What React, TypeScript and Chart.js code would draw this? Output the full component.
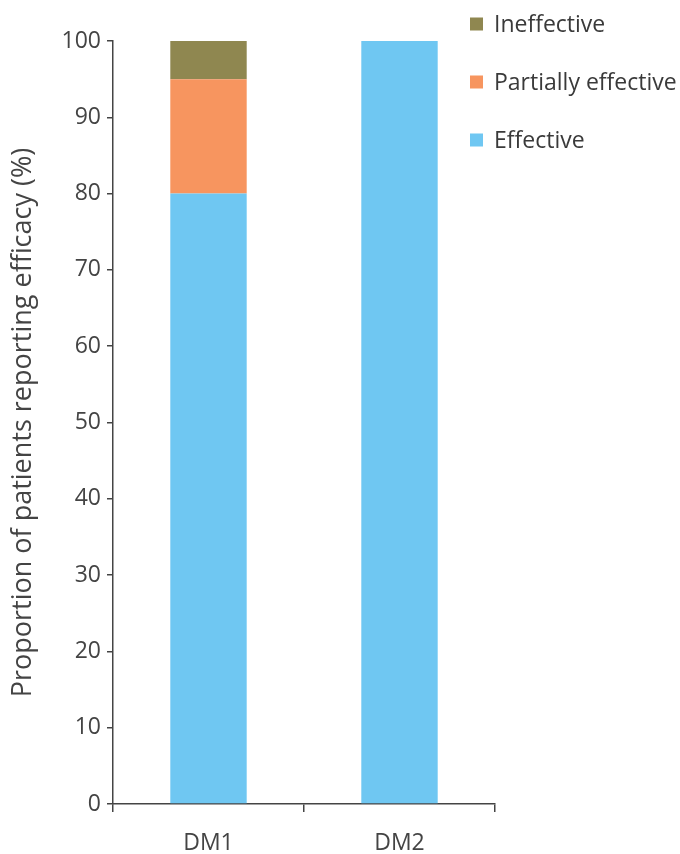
import React, { useEffect, useRef } from "react";
import { Chart, registerables } from "chart.js";

Chart.register(...registerables);

const categories = ["DM1", "DM2"];
const effective = [80, 100];
const partiallyEffective = [15, 0];
const ineffective = [5, 0];
const yTicks = [0, 10, 20, 30, 40, 50, 60, 70, 80, 90, 100];

const FONT = "'Open Sans', sans-serif";

// Vertical legend drawn in the top-right corner, top entry = top of stack
const cornerLegend = {
  id: "cornerLegend",
  afterDraw(chart: any) {
    const ctx = chart.ctx;
    const items = [...chart.data.datasets].reverse();
    const rowY = [24, 82, 140];
    ctx.save();
    ctx.font = `23px ${FONT}`;
    ctx.textBaseline = "middle";
    ctx.textAlign = "left";
    items.forEach((ds: any, i: number) => {
      const y = rowY[i];
      ctx.fillStyle = ds.backgroundColor;
      ctx.fillRect(470, y - 6.5, 13, 13);
      ctx.fillStyle = "#3a3a3a";
      ctx.fillText(ds.label, 494, y + 1);
    });
    ctx.restore();
  },
};

export default function App() {
  const ref = useRef<HTMLCanvasElement>(null);

  useEffect(() => {
    if (!ref.current) return;
    const chart = new Chart(ref.current, {
      type: "bar",
      data: {
        labels: categories,
        datasets: [
          { label: "Effective", data: effective, backgroundColor: "#6fc7f2" },
          { label: "Partially effective", data: partiallyEffective, backgroundColor: "#f7955f" },
          { label: "Ineffective", data: ineffective, backgroundColor: "#8f8750" },
        ],
      },
      options: {
        responsive: false,
        animation: false,
        layout: { padding: { top: 41, right: 185, left: 0, bottom: 0 } },
        datasets: { bar: { categoryPercentage: 1, barPercentage: 0.4 } },
        plugins: { legend: { display: false }, tooltip: { enabled: false } },
        scales: {
          x: {
            stacked: true,
            offset: true,
            grid: {
              offset: true,
              drawOnChartArea: false,
              drawTicks: true,
              tickLength: 8,
              color: "#444",
              lineWidth: 1.5,
            },
            border: { display: true, color: "#444", width: 1.5 },
            ticks: { color: "#444", font: { family: FONT, size: 23 }, padding: 18 },
            afterFit(scale: any) {
              scale.height = 50;
            },
          },
          y: {
            stacked: true,
            min: 0,
            max: 100,
            afterBuildTicks(scale: any) {
              scale.ticks = yTicks.map((v) => ({ value: v }));
            },
            grid: {
              drawOnChartArea: false,
              drawTicks: true,
              tickLength: 6,
              color: "#444",
              lineWidth: 1.5,
            },
            border: { display: true, color: "#444", width: 1.5 },
            ticks: { color: "#444", font: { family: FONT, size: 23 }, padding: 6 },
            title: {
              display: true,
              text: "Proportion of patients reporting efficacy (%)",
              color: "#444",
              font: { family: FONT, size: 27 },
              padding: { top: 7, bottom: 0 },
            },
            afterFit(scale: any) {
              scale.width = 113;
            },
          },
        },
      },
      plugins: [cornerLegend],
    });
    return () => chart.destroy();
  }, []);

  return (
    <div style={{ position: "absolute", left: 0, top: 0, width: 680, height: 854, background: "#fff" }}>
      <canvas ref={ref} width={680} height={854} style={{ display: "block" }} />
    </div>
  );
}
